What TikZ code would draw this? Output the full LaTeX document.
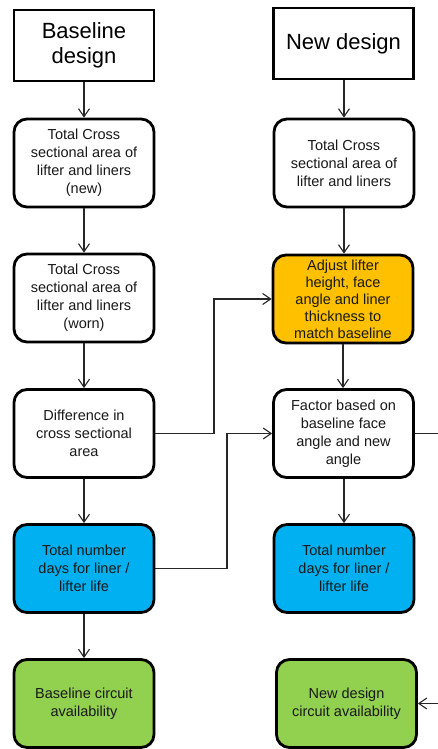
\documentclass[tikz,border=0pt]{standalone}
\usepackage{fontspec}
\setmainfont{Liberation Sans}
\usetikzlibrary{arrows.meta}
\definecolor{adjyellow}{HTML}{FFC000}
\definecolor{daysblue}{HTML}{00B0F0}
\definecolor{availgreen}{HTML}{92D050}
\begin{document}
\begin{tikzpicture}[x=1pt,y=-1pt,
  titlebox/.style={draw=black, line width=2.8pt, minimum width=140pt, minimum height=71pt, align=center, inner sep=0pt, font=\fontsize{22}{25.5}\selectfont},
  procbox/.style={draw=black, line width=2.8pt, rounded corners=13pt, minimum width=140pt, minimum height=88pt, align=center, inner sep=0pt, font=\fontsize{14.5}{18}\selectfont, text=black!90},
  conn/.style={line width=1.1pt, draw=black!85, -{Straight Barb[length=8pt,width=11pt,line width=1.1pt]}},
  plain/.style={line width=1.1pt, draw=black!85}
]
\useasboundingbox (0,0) rectangle (437,749);
% left column
\node[titlebox] (bd) at (84,45.5) {Baseline\\design};
\node[procbox, fill=white] (bnew) at (84,163) {Total Cross\\sectional area of\\lifter and liners\\(new)};
\node[procbox, fill=white] (bworn) at (84,298) {Total Cross\\sectional area of\\lifter and liners\\(worn)};
\node[procbox, fill=white] (diff) at (84,433.5) {Difference in\\cross sectional\\area};
\node[procbox, fill=daysblue] (bdays) at (84,568.5) {Total number\\days for liner /\\lifter life};
\node[procbox, fill=availgreen] (bavail) at (84,703.5) {Baseline circuit\\availability};
% right column
\node[titlebox] (nd) at (343.5,43.5) {New design};
\node[procbox, fill=white] (ntot) at (344,163) {Total Cross\\sectional area of\\lifter and liners};
\node[procbox, fill=adjyellow, font=\fontsize{14.5}{17}\selectfont] (adj) at (343,299) {Adjust lifter\\height, face\\angle and liner\\thickness to\\match baseline};
\node[procbox, fill=white] (fac) at (343.5,433.5) {Factor based on\\baseline face\\angle and new\\angle};
\node[procbox, fill=daysblue] (ndays) at (344,568.5) {Total number\\days for liner /\\lifter life};
\node[procbox, fill=availgreen] (navail) at (346.5,703.5) {New design\\circuit availability};
% left arrows
\draw[conn] (bd) -- (bnew);
\draw[conn] (bnew) -- (bworn);
\draw[conn] (bworn) -- (diff);
\draw[conn] (diff) -- (bdays);
\draw[conn] (bdays) -- (bavail);
% right arrows
\draw[conn] (nd.south -| ntot.north) -- (ntot.north);
\draw[conn] (ntot) -- (adj.north -| ntot.south);
\draw[conn] (adj.south) -- (fac.north -| adj.south);
\draw[conn] (fac.south -| ndays.north) -- (ndays.north);
% cross connectors
\coordinate (j1) at (214,433.5);
\coordinate (j2) at (227,568.5);
\coordinate (outR) at (452,433.5);
\draw[conn] (diff.east) -- (j1) |- (adj.west);
\draw[conn] (bdays.east) -- (j2) |- (fac.west);
\draw[conn] (fac.east) -- (outR) |- (navail.east);
\end{tikzpicture}
\end{document}
